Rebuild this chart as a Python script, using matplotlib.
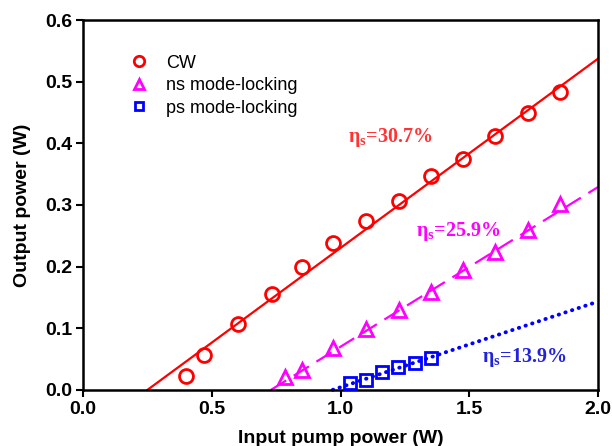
import numpy as np
import matplotlib
matplotlib.use("Agg")
from matplotlib import pyplot as plt

# Data
cw_x = [0.40, 0.47, 0.60, 0.735, 0.85, 0.97, 1.10, 1.227, 1.35, 1.476, 1.60, 1.728, 1.852]
cw_y = [0.023, 0.057, 0.106, 0.156, 0.200, 0.238, 0.274, 0.306, 0.347, 0.374, 0.412, 0.449, 0.483]

ns_x = [0.785, 0.85, 0.97, 1.10, 1.227, 1.35, 1.476, 1.60, 1.728, 1.852]
ns_y = [0.021, 0.032, 0.068, 0.099, 0.130, 0.158, 0.194, 0.224, 0.259, 0.301]

ps_x = [1.037, 1.10, 1.16, 1.224, 1.29, 1.35]
ps_y = [0.011, 0.016, 0.029, 0.037, 0.044, 0.052]

# linear fits: (slope, threshold)
fits = {"cw": (0.307, 0.25), "ns": (0.259, 0.73), "ps": (0.139, 0.97)}

red = "#ff0000"
mag = "#ff00ff"
blue = "#0000ff"

plt.rcParams["font.family"] = ["Liberation Sans", "DejaVu Sans"]

fig = plt.figure(figsize=(6.12, 4.46), dpi=100)
ax = fig.add_axes([0.136, 0.126, 0.841, 0.829])

# fit lines
styles = [("cw", red, "-", 1.6), ("ns", mag, (0, (8, 4)), 1.6), ("ps", blue, (0, (0.1, 1.7)), 2.8)]
for key, col, ls, lw in styles:
    k, x0 = fits[key]
    xx = np.array([x0, 2.0])
    ax.plot(xx, k * (xx - x0), color=col, ls=ls, lw=lw,
            dash_capstyle="round" if key == "ps" else "butt", zorder=2, clip_on=False)

ax.plot(cw_x, cw_y, "o", ms=10, mfc="none", mec=red, mew=2, label="CW", zorder=3)
ax.plot(ns_x, ns_y, "^", ms=10, mfc="none", mec=mag, mew=2, label="ns mode-locking", zorder=3)
ax.plot(ps_x, ps_y, "s", ms=8.5, mfc="none", mec=blue, mew=2, label="ps mode-locking", zorder=3)

ax.set_xlim(0, 2.0)
ax.set_ylim(0, 0.6)
ax.set_xticks([0.0, 0.5, 1.0, 1.5, 2.0])
ax.set_yticks([0.0, 0.1, 0.2, 0.3, 0.4, 0.5, 0.6])
ax.xaxis.set_major_formatter(matplotlib.ticker.FormatStrFormatter("%.1f"))
ax.yaxis.set_major_formatter(matplotlib.ticker.FormatStrFormatter("%.1f"))
for lab in ax.get_xticklabels() + ax.get_yticklabels():
    lab.set_fontweight("bold")
    lab.set_fontsize(14)
ax.tick_params(direction="out", length=5, width=1.5, top=False, right=False, pad=3)
for sp in ax.spines.values():
    sp.set_linewidth(1.8)

ax.set_xlabel("Input pump power (W)", fontsize=14, fontweight="bold", labelpad=9)
ax.set_ylabel("Output power (W)", fontsize=14, fontweight="bold", labelpad=10)

ax.legend(loc="upper left", bbox_to_anchor=(0.06, 0.95), frameon=False, fontsize=13,
          handlelength=1.0, handletextpad=1.0, labelspacing=0.3, markerscale=0.75)

tfont = dict(family=["Liberation Serif", "DejaVu Serif"], fontweight="bold", fontsize=14.5)
ax.text(1.195, 0.41, r"$\mathregular{\eta_s}$=30.7%", color="#ff3333", ha="center", va="center", **tfont)
ax.text(1.457, 0.257, r"$\mathregular{\eta_s}$=25.9%", color=mag, ha="center", va="center", **tfont)
ax.text(1.715, 0.053, r"$\mathregular{\eta_s}$=13.9%", color="#2222dd", ha="center", va="center", **tfont)

fig.savefig("out.png", dpi=100)
